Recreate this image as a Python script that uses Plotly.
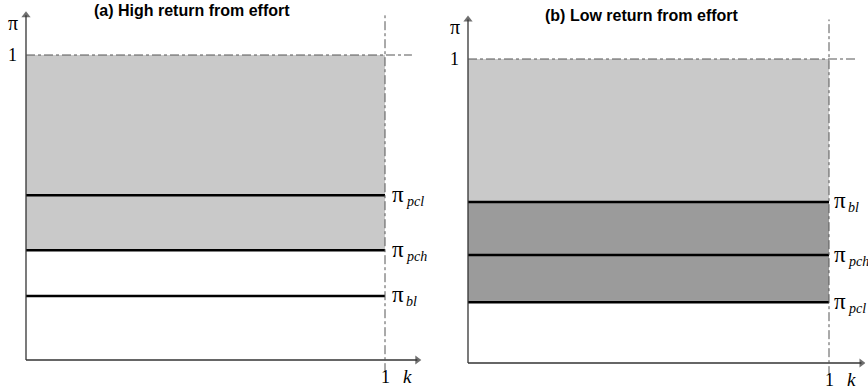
import plotly.graph_objects as go

W, H = 868, 389

# Threshold values of pi in each panel
panels = ["(a) High return from effort", "(b) Low return from effort"]
left_names = ["pcl", "pch", "bl"]
left_values = [0.54, 0.36, 0.21]
right_names = ["bl", "pch", "pcl"]
right_values = [0.53, 0.355, 0.20]
k_max = 1.0
pi_max = 1.0

LIGHT = "#c9c9c9"
DARK = "#9b9b9b"
AX = "#333333"
SERIF = "Liberation Serif"

fig = go.Figure()

# pixel geometry of each panel: origin x, x of k=1, origin y, y of pi=1 (from top)
geom = [
    dict(x0=26, x1=385, y0=360, y1=55, xr=(-0.06, 1.12), yr=(-0.08, 1.18)),
    dict(x0=468, x1=829, y0=363, y1=59, xr=(-0.06, 1.1), yr=(-0.08, 1.19)),
]

for i, g in enumerate(geom):
    xs = (g["x1"] - g["x0"])
    ys = (g["y0"] - g["y1"])
    left_px = g["x0"] + g["xr"][0] * xs
    right_px = g["x0"] + g["xr"][1] * xs
    bot_px = g["y0"] - g["yr"][0] * ys
    top_px = g["y0"] - g["yr"][1] * ys
    sfx = "" if i == 0 else "2"
    fig.layout["xaxis" + sfx] = dict(
        domain=[left_px / W, right_px / W], range=list(g["xr"]),
        visible=False, fixedrange=True, anchor="y" + sfx)
    fig.layout["yaxis" + sfx] = dict(
        domain=[(H - bot_px) / H, (H - top_px) / H], range=list(g["yr"]),
        visible=False, fixedrange=True, anchor="x" + sfx)

xref = ["x", "x2"]
yref = ["y", "y2"]
label_gap = [0.015, 0.008]


def add_panel(i, names, values, shade):
    xr, yr = xref[i], yref[i]
    # shaded regions
    for (ylo, yhi, col) in shade:
        fig.add_shape(type="rect", xref=xr, yref=yr, x0=0, x1=k_max, y0=ylo, y1=yhi,
                      fillcolor=col, line_width=0, layer="below")
    # dash-dot guides at pi=1 and k=1
    fig.add_shape(type="line", xref=xr, yref=yr, x0=0, x1=1.075, y0=pi_max, y1=pi_max,
                  line=dict(color="#555555", width=1, dash="dashdot"))
    fig.add_shape(type="line", xref=xr, yref=yr, x0=k_max, x1=k_max, y0=-0.04, y1=1.13,
                  line=dict(color="#555555", width=1, dash="dashdot"))
    # threshold lines with their pi labels
    for n, v in zip(names, values):
        fig.add_trace(go.Scatter(x=[0, k_max], y=[v, v], mode="lines",
                                 line=dict(color="black", width=2.5),
                                 xaxis=xr, yaxis=yr, showlegend=False, hoverinfo="skip"))
        fig.add_annotation(xref=xr, yref=yr, x=k_max + label_gap[i], y=v, xanchor="left",
                           yanchor="middle", showarrow=False, text="π", yshift=1,
                           font=dict(family=SERIF, size=23, color="black"))
        fig.add_annotation(xref=xr, yref=yr, x=k_max + label_gap[i], y=v, xanchor="left",
                           yanchor="middle", showarrow=False, text="<i>%s</i>" % n,
                           xshift=14, yshift=-6,
                           font=dict(family=SERIF, size=14, color="black"))
    # axis lines with arrowheads
    fig.add_trace(go.Scatter(x=[0, 1.09], y=[0, 0], mode="lines+markers",
                             line=dict(color=AX, width=1.3),
                             marker=dict(symbol=["circle", "triangle-right"], size=[0, 8],
                                         color=AX, line_width=0),
                             xaxis=xr, yaxis=yr, showlegend=False, hoverinfo="skip"))
    fig.add_trace(go.Scatter(x=[0, 0], y=[0, 1.13], mode="lines+markers",
                             line=dict(color=AX, width=1.3),
                             marker=dict(symbol=["circle", "triangle-up"], size=[0, 8],
                                         color=AX, line_width=0),
                             xaxis=xr, yaxis=yr, showlegend=False, hoverinfo="skip"))
    # axis labels
    fig.add_annotation(xref=xr, yref=yr, x=-0.037, y=pi_max, text="1", showarrow=False,
                       xanchor="center", yanchor="middle",
                       font=dict(family=SERIF, size=18, color="black"))
    fig.add_annotation(xref=xr, yref=yr, x=-0.037, y=1.105, text="π", showarrow=False,
                       xanchor="center", yanchor="middle",
                       font=dict(family=SERIF, size=20, color="black"))
    fig.add_annotation(xref=xr, yref=yr, x=k_max, y=-0.055, text="1", showarrow=False,
                       xanchor="center", yanchor="middle",
                       font=dict(family=SERIF, size=18, color="black"))
    fig.add_annotation(xref=xr, yref=yr, x=k_max + 0.062, y=-0.055, text="<i>k</i>",
                       showarrow=False, xanchor="center", yanchor="middle",
                       font=dict(family=SERIF, size=19, color="black"))


add_panel(0, left_names, left_values, [(left_values[1], pi_max, LIGHT)])
add_panel(1, right_names, right_values,
          [(right_values[0], pi_max, LIGHT), (right_values[2], right_values[0], DARK)])

# panel titles
fig.add_annotation(xref="paper", yref="paper", x=192 / W, y=1 - 10 / H,
                   text="<b>" + panels[0] + "</b>",
                   showarrow=False, xanchor="center", yanchor="middle",
                   font=dict(family="Liberation Sans", size=16, color="black"))
fig.add_annotation(xref="paper", yref="paper", x=642 / W, y=1 - 15 / H,
                   text="<b>" + panels[1] + "</b>",
                   showarrow=False, xanchor="center", yanchor="middle",
                   font=dict(family="Liberation Sans", size=16, color="black"))

fig.update_layout(width=W, height=H, margin=dict(l=0, r=0, t=0, b=0),
                  paper_bgcolor="white", plot_bgcolor="rgba(0,0,0,0)")

fig.write_html("out.html")
